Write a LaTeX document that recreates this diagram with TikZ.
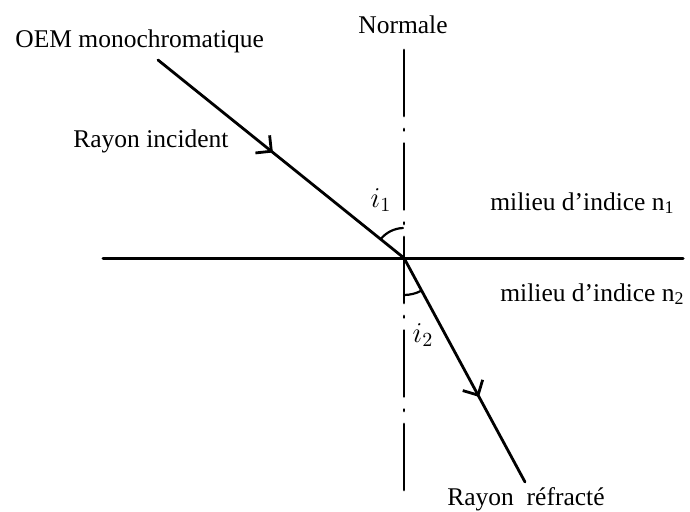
\documentclass[tikz,border=0pt]{standalone}
\usepackage{fontspec}
\setmainfont{Liberation Serif}
\usetikzlibrary{arrows.meta,decorations.markings}
\tikzset{
	rayon/.style={line width=1.4pt, postaction={decorate},
		decoration={markings, mark=at position #1 with {\arrow{Straight Barb[angle=90:8pt]}}}},
	normale/.style={line width=1.4pt, dash pattern=on 33pt off 6.5pt on 0.75pt off 6.5pt},
	lbl/.style={anchor=base west, inner sep=0pt}
}
\begin{document}
\begin{tikzpicture}[x=0.5pt, y=0.5pt, font=\fontsize{12.75}{15}\selectfont, line join=round, line cap=round]
	\useasboundingbox (0,0) rectangle (690,511);
	\path
	(158,451)coordinate(S)
	(404,253)coordinate(I)
	(525,29)coordinate(R)
	(103,253)coordinate(G)
	(683,253)coordinate(D)
	(404,461)coordinate(H)
	(404,21)coordinate(B)
	;
	\draw[line width=1.5pt] (G)--(D);
	\draw[normale] (H)--(B);
	\draw[rayon=.467] (S)--(I);
	\draw[rayon=.62] (I)--(R);
	% angles i1 et i2
	\draw[line width=1.1pt] (I) ++(141.2:30) arc[start angle=141.2, end angle=92, radius=30];
	\draw[line width=1.1pt] (I) ++(-90:37) arc[start angle=-90, end angle=-61.6, radius=37];
	\path
	(15,464) node[lbl](oem){OEM monochromatique}
	(73,364) node[lbl](inc){Rayon incident}
	(358,478) node[lbl](nor){Normale}
	(490,301) node[lbl](m1){milieu d'indice n\textsubscript{1}}
	(500,210) node[lbl](m2){milieu d'indice n\textsubscript{2}}
	(447,6) node[lbl](refr){Rayon\ \ réfracté}
	(381,311) node[font=\Large](i1){$i_1$}
	(423,176) node[font=\Large](i2){$i_2$};
\end{tikzpicture}
\end{document}
